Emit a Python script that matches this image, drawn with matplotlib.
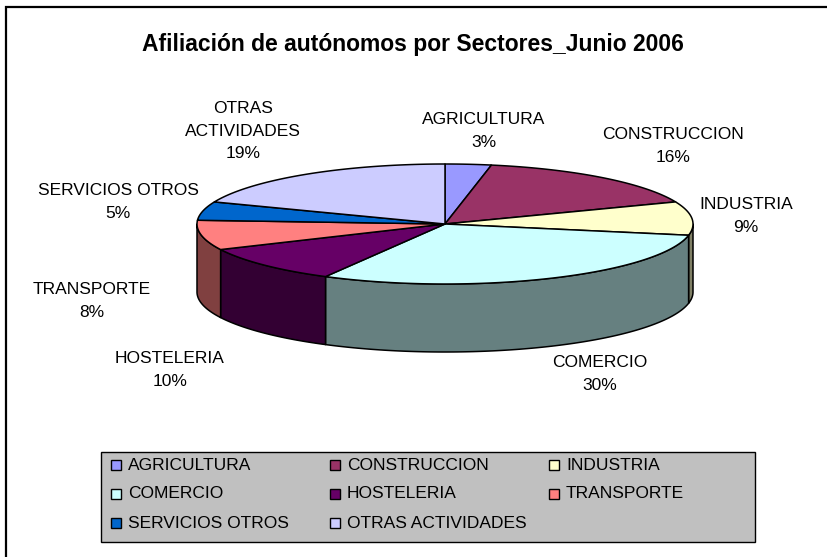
import textwrap
import numpy as np
import matplotlib
matplotlib.use("Agg")
import matplotlib.pyplot as plt
from matplotlib.patches import Polygon, Rectangle
from matplotlib.colors import to_rgb

# data
sectors = ['AGRICULTURA', 'CONSTRUCCION', 'INDUSTRIA', 'COMERCIO',
           'HOSTELERIA', 'TRANSPORTE', 'SERVICIOS OTROS', 'OTRAS ACTIVIDADES']
shares = [3, 16, 9, 30, 10, 8, 5, 19]
colors = ['#9999FF', '#993366', '#FFFFCC', '#CCFFFF',
          '#660066', '#FF8080', '#0066CC', '#CCCCFF']
title = 'Afiliación de autónomos por Sectores_Junio 2006'

plt.rcParams['font.family'] = ['Liberation Sans', 'DejaVu Sans']

W, H = 828, 557
fig = plt.figure(figsize=(W / 100, H / 100), dpi=100)
ax = fig.add_axes([0, 0, 1, 1])
ax.set_xlim(0, W)
ax.set_ylim(H, 0)
ax.axis('off')

# pie geometry (pixels)
cx, cy = 445, 224
rx, ry = 248, 60
depth = 68

# where Excel put each data label, relative to the pie centre
label_offsets = [(39, -93), (228, -78), (301, -8), (155, 150),
                 (-275, 146), (-353, 77), (-327, -22), (-202, -93)]


def ell(t):
    return cx + rx * np.sin(t), cy - ry * np.cos(t)


def dark(c):
    return tuple(np.array(to_rgb(c)) * 0.5)


bounds = np.cumsum([0] + shares) / sum(shares) * 2 * np.pi
n = len(shares)

# side walls (front half only)
for i in range(n):
    t0 = max(bounds[i], np.pi / 2)
    t1 = min(bounds[i + 1], 3 * np.pi / 2)
    if t1 <= t0:
        continue
    t = np.linspace(t0, t1, 120)
    x, y = ell(t)
    pts = np.column_stack([np.r_[x, x[::-1]], np.r_[y, y[::-1] + depth]])
    ax.add_patch(Polygon(pts, closed=True, fc=dark(colors[i]), ec='black',
                         lw=1.1, joinstyle='round'))

# top faces
for i in range(n):
    t = np.linspace(bounds[i], bounds[i + 1], 200)
    x, y = ell(t)
    pts = np.column_stack([np.r_[cx, x], np.r_[cy, y]])
    ax.add_patch(Polygon(pts, closed=True, fc=colors[i], ec='black',
                         lw=1.1, joinstyle='round'))

# data labels
for i in range(n):
    dx, dy = label_offsets[i]
    txt = textwrap.fill(sectors[i], 15) + '\n%d%%' % shares[i]
    ax.text(cx + dx, cy + dy, txt, ha='center', va='center',
            multialignment='center', fontsize=12.5, linespacing=1.6)

# title
ax.text(413, 44, title, ha='center', va='center', fontsize=16.5,
        fontweight='bold')

# legend
lx0, ly0, lw_, lh_ = 101, 452, 654, 90
ax.add_patch(Rectangle((lx0, ly0), lw_, lh_, fc='#C0C0C0', ec='black', lw=1))
for i, name in enumerate(sectors):
    row, col = divmod(i, 3)
    x0 = lx0 + 10 + col * 219
    yc = ly0 + 13 + row * 29
    ax.add_patch(Rectangle((x0, yc - 5), 10, 10, fc=colors[i], ec='black',
                           lw=1))
    ax.text(x0 + 17, yc, name, ha='left', va='center', fontsize=12.5)

# chart frame (open on right and bottom)
ax.plot([6, 6, W], [H, 6.5, 6.5], color='black', lw=1.6,
        solid_joinstyle='miter')

fig.savefig('out.png', dpi=100)
